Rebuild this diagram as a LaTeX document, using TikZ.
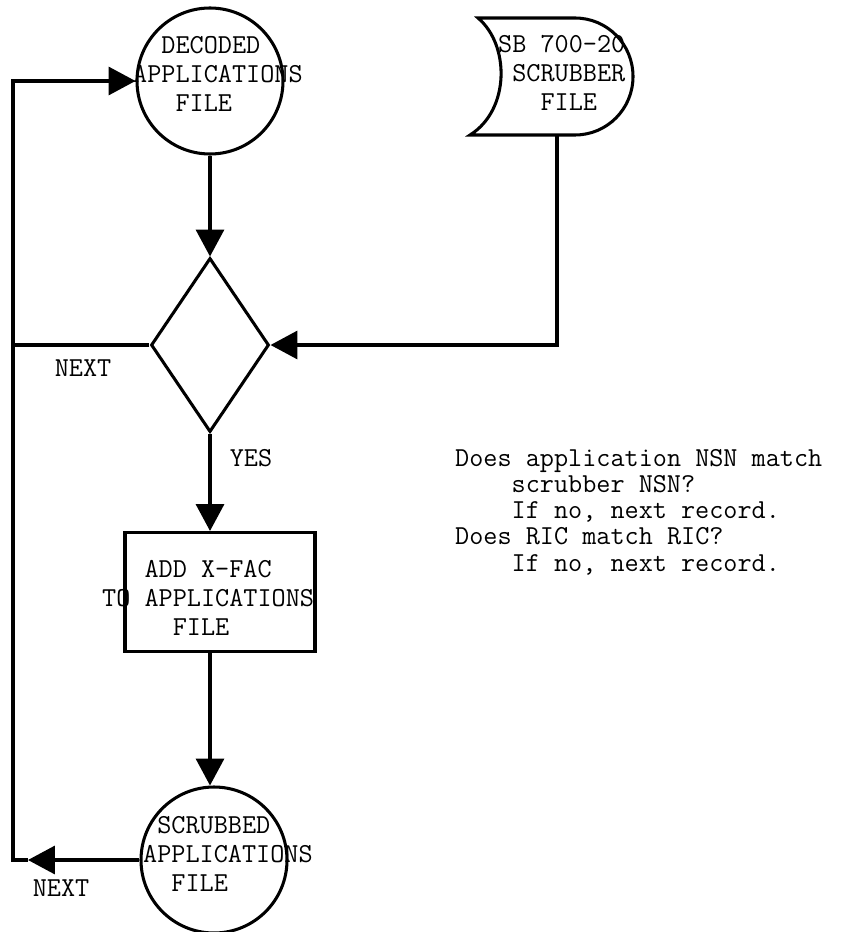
\documentclass[tikz,border=0pt]{standalone}
\usetikzlibrary{arrows.meta,shapes.geometric,calc}

\begin{document}
\begin{tikzpicture}[
  x=0.03cm, y=-0.03cm,
  font={\ttfamily\fontsize{23.4}{25}\selectfont},
  filecirc/.style={draw, circle, line width=2.6pt, minimum size=4.38cm, inner sep=0pt},
  decide/.style={draw, diamond, line width=2.6pt, minimum width=3.54cm, minimum height=5.22cm, inner sep=0pt},
  procbox/.style={draw, rectangle, line width=2.6pt, minimum width=5.7cm, minimum height=3.57cm, inner sep=0pt},
  txt/.style={anchor=west, align=left, inner sep=0pt},
  flow/.style={line width=2.6pt, line join=miter},
  arr/.style={flow, -{Triangle[length=23pt, width=24pt]}}
]
\useasboundingbox (0,0) rectangle (845,932);

\node[filecirc] (decoded) at (210,81) {};
\node[txt] (decodedtxt) at (133,74) {\hphantom{AP}DECODED\\APPLICATIONS\\\hphantom{APP}FILE};

\node[txt] (scrubber) at (498,73) {SB 700-20\\\hphantom{S}SCRUBBER\\\hphantom{SBX}FILE};
\draw[flow] (478,18) -- (575,18) .. controls (607,18) and (633,44) .. (633,76.5)
  .. controls (633,109) and (607,135) .. (575,135) -- (470,135)
  .. controls (510,110) and (510,45) .. (478,18) -- cycle;
\coordinate (sbot) at (557,135);

\node[decide] (test) at (210,345) {};
\node[procbox] (add) at (220,592) {};
\node[txt] (addtxt) at (102,598) {\hphantom{TOX}ADD X-FAC\\TO APPLICATIONS\\\hphantom{TOXAP}FILE};
\node[filecirc] (scrubbed) at (214,860) {};
\node[txt] (scrubbedtxt) at (143,854) {\hphantom{A}SCRUBBED\\APPLICATIONS\\\hphantom{AP}FILE};

\node[txt, font={\ttfamily\fontsize{23.4}{22.4}\selectfont}] (note) at (455,512)
  {Does application NSN match\\\hphantom{Does}scrubber NSN?\\\hphantom{Does}If no, next record.\\Does RIC match RIC?\\\hphantom{Does}If no, next record.};

\node (yes) at (251,458) {YES};
\node (next1) at (83,368) {NEXT};
\node (next2) at (61,888) {NEXT};

\coordinate (railtop) at (13,81);
\coordinate (railbot) at (13,860);
\coordinate (railmid) at (13,345);
\coordinate (backtip) at (28,860);

\draw[arr] (decoded) -- (test);
\draw[arr] (sbot) |- (test.east);
\draw[flow] (test.west) -- (railmid);
\draw[arr] (test.south) -- (test.south |- add.north);
\draw[arr] (test.south |- add.south) -- (test.south |- scrubbed.north);
\draw[arr] (scrubbed) -- (backtip);
\draw[arr] (backtip) -- (railbot) -- (railtop) -- (decoded);
\end{tikzpicture}
\end{document}
